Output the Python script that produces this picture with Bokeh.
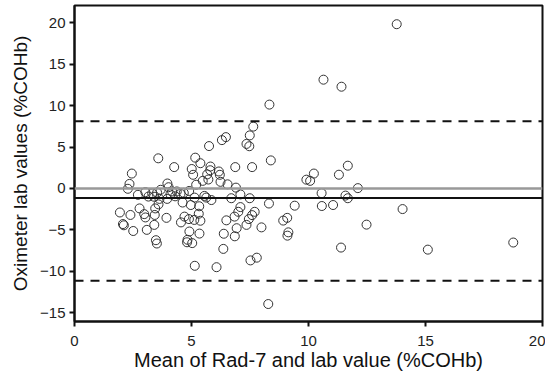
from bokeh.plotting import figure
from bokeh.models import Span, FixedTicker, Range1d
from bokeh.embed import file_html
from bokeh.resources import INLINE

# Mean of Rad-7 and lab value (%COHb)
mean_vals = [
    8.33, 7.64, 7.49, 7.35, 7.47, 6.47, 6.30, 5.75, 3.58, 5.16, 5.38, 8.39, 4.26, 6.87, 7.59, 2.45,
    13.77, 10.64, 11.41, 11.68, 11.30, 10.23, 9.91, 10.07, 12.11, 10.56, 11.58, 11.68, 9.41, 10.57,
    11.05, 14.02, 12.48, 11.39, 15.10, 18.75,
    5.01, 5.07, 5.81, 5.80, 5.67, 6.17, 6.21, 5.48, 5.20, 6.24, 6.54, 5.72, 6.90, 3.97, 4.02, 2.35,
    2.28, 2.71, 3.03, 3.16, 3.68, 4.17, 4.37, 4.67, 3.96, 3.63, 5.13, 5.55, 5.63, 5.85, 3.40, 4.30,
    4.90, 6.70, 7.09, 7.49, 8.31, 3.32, 3.53, 4.53, 4.10,
    3.59, 3.45, 4.62, 4.97, 5.33, 1.94, 2.39, 2.78, 2.98, 3.03, 3.43, 3.93, 4.70, 4.89, 4.55, 5.12,
    5.31, 5.38, 2.07, 2.11, 2.51, 3.09, 3.41, 4.91, 5.34, 4.83, 4.81, 5.03, 3.48, 3.52, 5.14, 6.07,
    8.28, 6.49, 6.38, 6.36, 6.84, 6.93, 6.85, 7.00, 7.09, 7.35, 7.45, 7.59, 7.70, 7.99, 7.52, 7.79,
    8.92, 9.09, 9.14, 9.10,
]
# Oximeter - lab values (%COHb)
diff_vals = [
    10.13, 7.47, 6.41, 5.38, 5.10, 6.20, 5.84, 5.12, 3.64, 3.72, 3.05, 3.39, 2.58, 2.58, 2.58, 1.80,
    19.84, 13.14, 12.29, 2.75, 1.66, 1.80, 1.06, 0.92, 0.04, -0.57, -0.86, -1.18, -2.08, -2.12,
    -2.00, -2.49, -4.37, -7.14, -7.39, -6.53,
    2.35, 1.65, 2.65, 2.20, 1.70, 2.05, 1.65, 0.92, 0.45, 0.80, 0.50, 1.08, 0.10, 0.60, 0.15, 0.55,
    -0.04, -0.77, -0.45, -0.98, -0.16, -0.36, -0.36, -0.53, -1.26, -1.26, -1.10, -0.90, -1.10, -1.40, -1.00, -0.95,
    -0.30, -1.18, -0.72, -1.18, -1.82, -0.60, -0.50, -0.65, -0.70,
    -1.92, -2.41, -1.70, -2.00, -2.15, -2.90, -3.20, -2.41, -3.10, -3.50, -3.20, -3.55, -3.40, -3.70, -4.10, -3.80,
    -3.05, -3.90, -4.30, -4.45, -5.14, -5.00, -4.40, -5.20, -5.45, -6.20, -6.50, -6.60, -6.25, -6.65, -9.34, -9.51,
    -13.96, -3.85, -5.47, -7.30, -3.40, -4.80, -5.78, -2.82, -2.25, -4.40, -3.70, -3.22, -2.82, -4.70, -8.69, -8.36,
    -3.88, -3.55, -5.30, -5.70,
]

bias = -1.14
upper_loa = 8.13
lower_loa = -11.14
zero_line = 0.0

x_ticks = [0, 5, 10, 15, 20]
y_ticks = [-15, -10, -5, 0, 5, 10, 15, 20]

FONT = "Liberation Sans"

p = figure(width=545, height=373, output_backend="svg", toolbar_location=None,
           x_range=Range1d(0, 20), y_range=Range1d(-16.07, 22.1),
           min_border_left=74, min_border_right=3, min_border_top=5, min_border_bottom=48)

p.grid.visible = False
p.background_fill_color = "white"
p.outline_line_color = "#111111"
p.outline_line_width = 2

p.add_layout(Span(location=zero_line, dimension="width", line_color="#999999", line_width=2.5))
p.add_layout(Span(location=bias, dimension="width", line_color="#111111", line_width=2))
p.add_layout(Span(location=upper_loa, dimension="width", line_color="#111111", line_width=2, line_dash="9 7"))
p.add_layout(Span(location=lower_loa, dimension="width", line_color="#111111", line_width=2, line_dash="9 7"))

p.scatter(mean_vals, diff_vals, size=9, marker="circle", fill_color=None,
          line_color="#333333", line_width=1)

for ax in (p.xaxis[0], p.yaxis[0]):
    ax.axis_line_width = 2
    ax.axis_line_color = "#111111"
    ax.major_tick_line_width = 2
    ax.major_tick_line_color = "#111111"
    ax.major_tick_out = 5
    ax.major_tick_in = 0
    ax.minor_tick_line_color = None
    ax.major_label_text_font = FONT
    ax.major_label_text_font_size = "15px"
    ax.major_label_text_color = "#222222"
    ax.axis_label_text_font = FONT
    ax.axis_label_text_font_style = "normal"
    ax.axis_label_text_color = "#111111"

p.xaxis[0].axis_label_text_font_size = "20px"
p.yaxis[0].axis_label_text_font_size = "19px"
p.xaxis[0].major_label_standoff = 9
p.xaxis[0].axis_label_standoff = 0
p.yaxis[0].major_label_standoff = 4
p.yaxis[0].axis_label_standoff = 6

p.xaxis[0].ticker = FixedTicker(ticks=x_ticks)
p.yaxis[0].ticker = FixedTicker(ticks=y_ticks)
p.xaxis[0].axis_label = "Mean of Rad-7 and lab value (%COHb)"
p.yaxis[0].axis_label = "Oximeter lab values (%COHb)"
p.xaxis[0].major_label_overrides = {t: str(t) for t in x_ticks}
p.yaxis[0].major_label_overrides = {t: (str(t) if t >= 0 else "\u2212" + str(-t)) for t in y_ticks}

open("out.html", "w").write(file_html(p, INLINE))
